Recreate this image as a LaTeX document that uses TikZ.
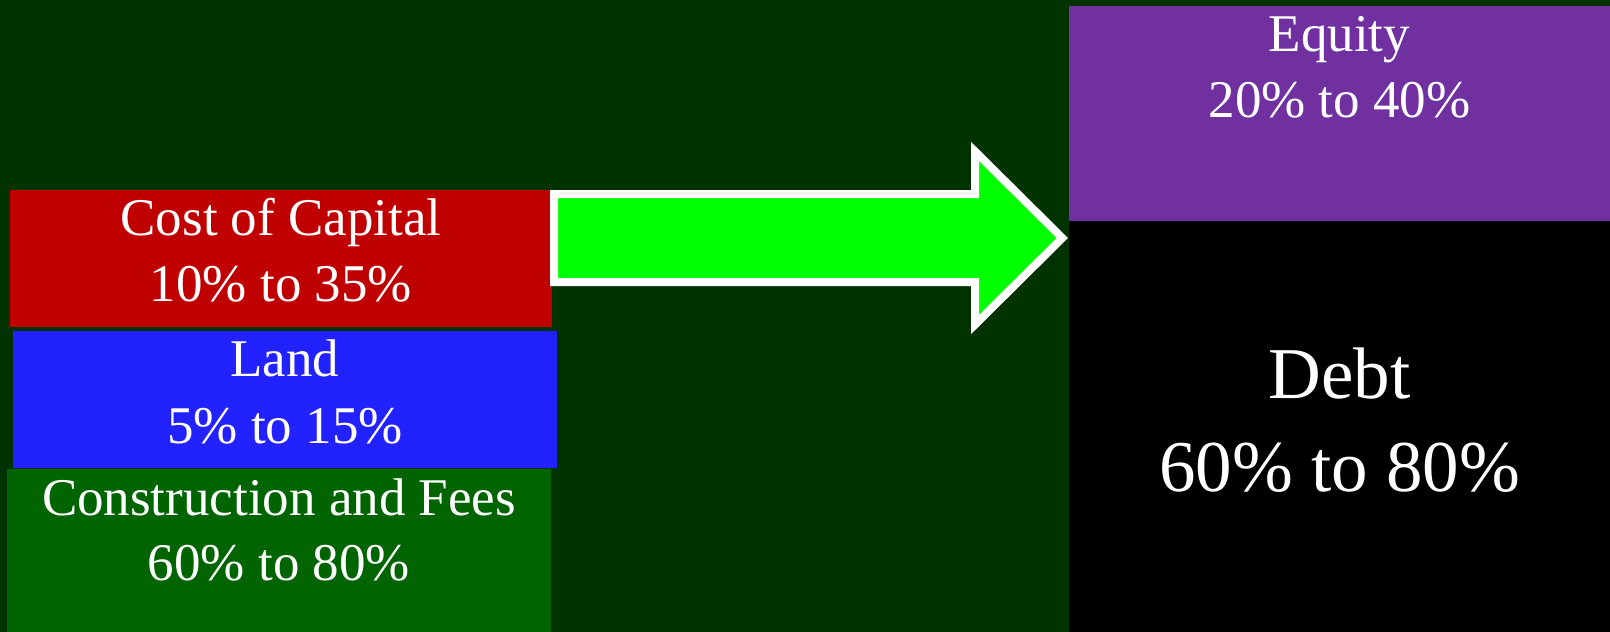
\documentclass[tikz,border=0pt]{standalone}
\usepackage{fontspec}
\setmainfont{Liberation Serif}
\definecolor{bgdark}{HTML}{003300}
\definecolor{capred}{HTML}{C00000}
\definecolor{landblue}{HTML}{2222FF}
\definecolor{buildgreen}{HTML}{006400}
\definecolor{eqpurple}{HTML}{7030A0}
\definecolor{arrowgreen}{HTML}{00FF00}
\tikzset{
  block/.style={rectangle, draw=none, inner sep=0pt, outer sep=0pt},
  lbl/.style={anchor=base, text=white, inner sep=0pt,
    font=\fontsize{53}{64}\selectfont},
  biglbl/.style={anchor=base, text=white, inner sep=0pt,
    font=\fontsize{73}{88}\selectfont},
}
\begin{document}
\begin{tikzpicture}[x=1pt, y=-1pt]
  % canvas
  \fill[bgdark] (0,0) rectangle (1610,632);
  \useasboundingbox (0,0) rectangle (1610,632);

  % cost stack on the left
  \node[block, fill=capred, minimum width=542pt, minimum height=137pt] (cap) at (281,258.5) {};
  \node[block, fill=landblue, minimum width=544pt, minimum height=137pt] (land) at (285,399) {};
  \node[block, fill=buildgreen, minimum width=544pt, minimum height=163pt] (build) at (279,550.5) {};

  \node[lbl] (capA) at (281,235.7) {Cost of Capital};
  \node[lbl] (capB) at (281,301.7) {10\% to 35\%};
  \node[lbl] (landA) at (285,376.7) {Land};
  \node[lbl] (landB) at (285,443.3) {5\% to 15\%};
  \node[lbl] (buildA) at (279,515) {Construction and Fees};
  \node[lbl] (buildB) at (279,580.7) {60\% to 80\%};

  % funding stack on the right
  \node[block, fill=eqpurple, minimum width=541pt, minimum height=215pt] (equity) at (1339.5,113.5) {};
  \node[block, fill=black, minimum width=541pt, minimum height=411pt] (debt) at (1339.5,426.5) {};

  \node[lbl] (eqA) at (1339.5,51.7) {Equity};
  \node[lbl] (eqB) at (1339.5,117.3) {20\% to 40\%};
  \node[biglbl] (debtA) at (1339.5,398.3) {Debt};
  \node[biglbl] (debtB) at (1339.5,491.7) {60\% to 80\%};

  % block arrow from costs to funding
  \coordinate (tail) at (554,238);
  \coordinate (tip) at (1062.3,238);
  \draw[white, line width=8pt, fill=arrowgreen, line join=miter]
    (554,194) -- (975,194) -- (975,151.4) -- (tip)
    -- (975,324.6) -- (975,282) -- (554,282) -- cycle;
\end{tikzpicture}
\end{document}
